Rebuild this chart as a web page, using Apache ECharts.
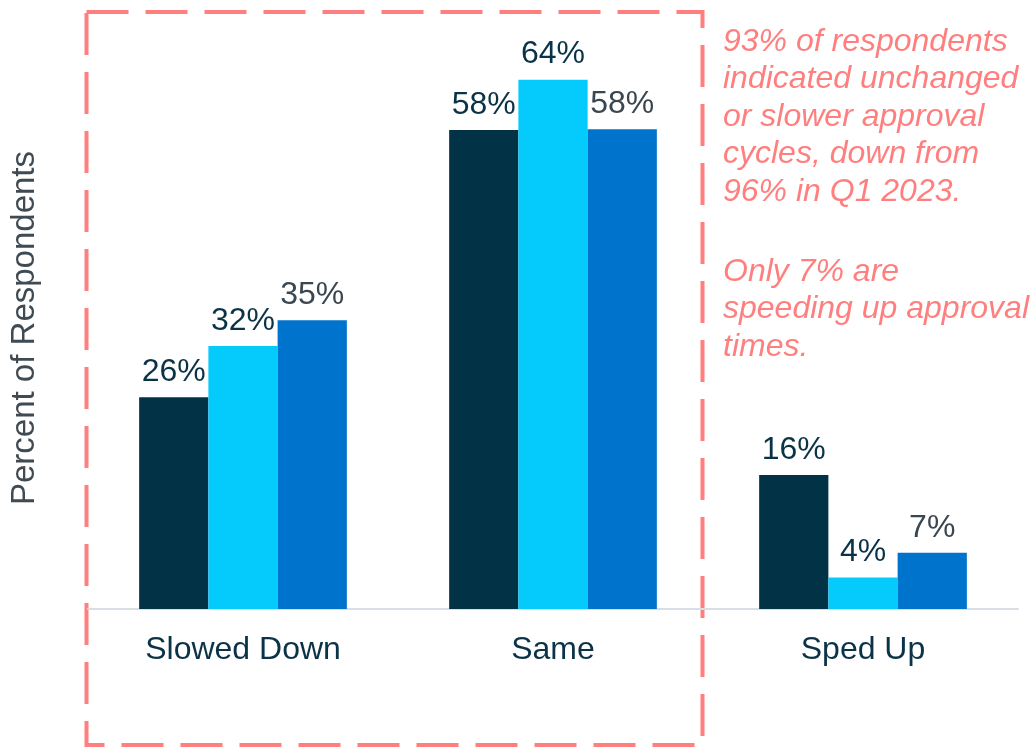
<!DOCTYPE html>
<html>
<head>
<meta charset="utf-8">
<script src="https://cdn.jsdelivr.net/npm/echarts@6/dist/echarts.min.js"></script>
<style>
html,body{margin:0;padding:0;background:#fff;}
#chart{width:1032px;height:751px;}
</style>
</head>
<body>
<div id="chart"></div>
<script>
const categories = ['Slowed Down', 'Same', 'Sped Up'];
const seriesNames = ['Earlier survey', 'Q1 2023', 'Latest survey'];
const earlierValues = [25.6, 57.9, 16.2];
const q1Values = [31.8, 64.0, 3.8];
const latestValues = [34.9, 58.0, 6.8];
const yAxisTitle = 'Percent of Respondents';
const noteParagraph1 = ['93% of respondents', 'indicated unchanged', 'or slower approval', 'cycles, down from', '96% in Q1 2023.'];
const noteParagraph2 = ['Only 7% are', 'speeding up approval', 'times.'];

const colors = ['#023246', '#05CBFD', '#0073CC'];
const labelColors = ['#0B3348', '#0B3348', '#3A4650'];
const font = 'Liberation Sans, Arial, sans-serif';

const chart = echarts.init(document.getElementById('chart'));
const allValues = [earlierValues, q1Values, latestValues];

chart.setOption({
  animation: false,
  grid: { left: 88, right: 14, top: 30, bottom: 142 },
  xAxis: {
    type: 'category',
    data: categories,
    axisLine: { lineStyle: { color: '#D9DEE4', width: 2 } },
    axisTick: { show: false },
    axisLabel: { color: '#0B3348', fontSize: 32, fontFamily: font, margin: 25 }
  },
  yAxis: {
    type: 'value',
    min: 0,
    max: 70,
    show: false
  },
  series: allValues.map((vals, i) => ({
    name: seriesNames[i],
    type: 'bar',
    data: vals,
    barGap: '0%',
    barCategoryGap: '33%',
    itemStyle: { color: colors[i] },
    label: {
      show: true,
      position: 'top',
      distance: 9,
      color: labelColors[i],
      fontSize: 32,
      fontFamily: font,
      formatter: p => Math.round(p.value) + '%'
    }
  })),
  graphic: [
    {
      type: 'rect',
      shape: { x: 86.5, y: 12, width: 616, height: 733 },
      style: { fill: 'none', stroke: '#FF7F7F', lineWidth: 4, lineDash: [42, 17] },
      silent: true
    },
    {
      type: 'text',
      x: 25, y: 328,
      rotation: Math.PI / 2,
      style: {
        text: yAxisTitle,
        fill: '#3F4A52',
        font: '33px ' + font,
        textAlign: 'center',
        textVerticalAlign: 'middle'
      }
    },
    {
      type: 'text',
      x: 723, y: 23,
      style: {
        text: noteParagraph1.join('\n'),
        fill: '#FF7F7F',
        font: 'italic 32px ' + font,
        lineHeight: 37.5,
        textAlign: 'left',
        textVerticalAlign: 'top'
      }
    },
    {
      type: 'text',
      x: 723, y: 253,
      style: {
        text: noteParagraph2.join('\n'),
        fill: '#FF7F7F',
        font: 'italic 32px ' + font,
        lineHeight: 37.5,
        textAlign: 'left',
        textVerticalAlign: 'top'
      }
    }
  ]
});
</script>
</body>
</html>
